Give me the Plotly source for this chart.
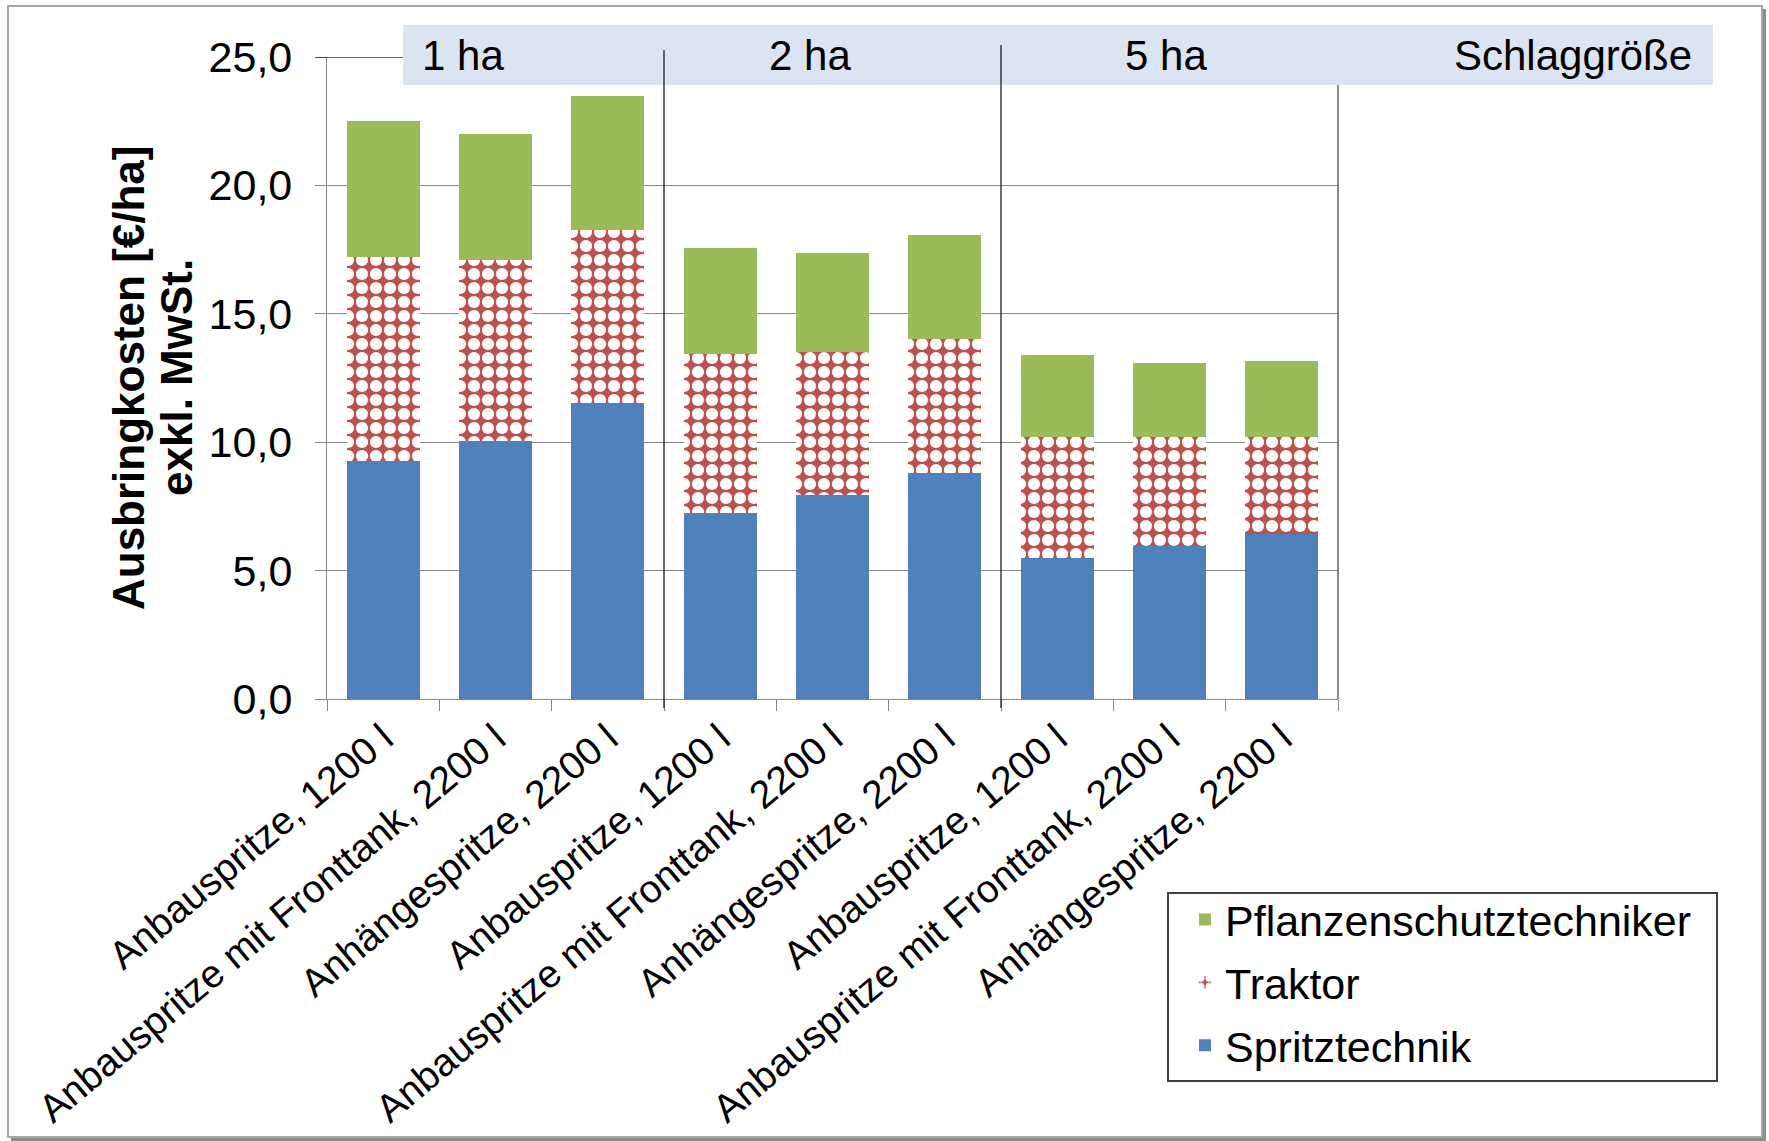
import plotly.graph_objects as go

# ---------------- data ----------------
categories = [
    "Anbauspritze, 1200 l",
    "Anbauspritze mit Fronttank, 2200 l",
    "Anhängespritze, 2200 l",
    "Anbauspritze, 1200 l",
    "Anbauspritze mit Fronttank, 2200 l",
    "Anhängespritze, 2200 l",
    "Anbauspritze, 1200 l",
    "Anbauspritze mit Fronttank, 2200 l",
    "Anhängespritze, 2200 l",
]
groups = ["1 ha", "2 ha", "5 ha"]
group_title = "Schlaggröße"
spritztechnik = [9.28, 10.06, 11.54, 7.26, 7.94, 8.82, 5.51, 5.97, 6.42]
traktor = [7.92, 7.02, 6.71, 6.18, 5.57, 5.19, 4.71, 4.25, 3.77]
pflanzenschutz = [5.31, 4.91, 5.25, 4.14, 3.85, 4.04, 3.16, 2.88, 2.97]
series_names = ["Spritztechnik", "Traktor", "Pflanzenschutztechniker"]
y_ticks = [0, 5, 10, 15, 20, 25]
y_title_1 = "Ausbringkosten [€/ha]"
y_title_2 = "exkl. MwSt."

# ---------------- layout geometry (pixels) ----------------
W, H = 1769, 1141
L, R, T, B = 327, 1338, 57, 699
FONT = "Liberation Sans, Arial, sans-serif"


def px(x):
    return (x - L) / (R - L)


def py(y):
    return (B - y) / (B - T)


xs = list(range(len(categories)))

fig = go.Figure()
fig.add_trace(go.Bar(
    x=xs, y=spritztechnik, name=series_names[0],
    marker=dict(color="#4f81bd", line=dict(width=0)), width=0.65,
    legendgroup="a", legendrank=3,
))
fig.add_trace(go.Bar(
    x=xs, y=traktor, name=series_names[1],
    marker=dict(color="#c0504d", line=dict(width=0),
                pattern=dict(shape=".", fgcolor="white", bgcolor="#c0504d",
                             size=14, solidity=0.6, fillmode="replace")),
    width=0.65, legendgroup="b", legendrank=2,
))
fig.add_trace(go.Bar(
    x=xs, y=pflanzenschutz, name=series_names[2],
    marker=dict(color="#9bbb59", line=dict(width=0)), width=0.65,
    legendgroup="c", legendrank=1,
))

shapes = []
# outer frame with shadow
shapes.append(dict(type="rect", xref="paper", yref="paper", layer="below",
                   x0=px(11), x1=px(1766), y0=py(9), y1=py(1141),
                   fillcolor="#8c8c8c", line=dict(width=0)))
shapes.append(dict(type="rect", xref="paper", yref="paper", layer="below",
                   x0=px(8), x1=px(1762), y0=py(6), y1=py(1137),
                   fillcolor="white", line=dict(color="#a6a6a6", width=2)))
# plot top & right border
shapes.append(dict(type="line", xref="paper", yref="y", x0=px(316), x1=1, y0=25, y1=25,
                   line=dict(color="#303030", width=1.5)))
shapes.append(dict(type="line", xref="paper", yref="paper", x0=1, x1=1, y0=0, y1=1,
                   line=dict(color="#404040", width=1.2)))
# group band
shapes.append(dict(type="rect", xref="paper", yref="paper",
                   x0=px(403), x1=px(1713), y0=py(85), y1=py(25),
                   fillcolor="#dbe5f1", line=dict(width=0)))
# group separators
shapes.append(dict(type="line", xref="x", yref="paper", x0=2.5, x1=2.5,
                   y0=py(708), y1=py(50), line=dict(color="#202020", width=1.3)))
shapes.append(dict(type="line", xref="x", yref="paper", x0=5.5, x1=5.5,
                   y0=py(708), y1=py(45), line=dict(color="#202020", width=1.3)))
# legend box
shapes.append(dict(type="rect", xref="paper", yref="paper",
                   x0=px(1168), x1=px(1717), y0=py(1081), y1=py(893),
                   fillcolor="white", line=dict(color="#404040", width=2)))

annotations = []
band_font = dict(family=FONT, size=42, color="black")
for name, xpix in zip(groups, [420, 767, 1123]):
    annotations.append(dict(xref="paper", yref="paper", x=px(xpix), y=py(55),
                            xanchor="left", yanchor="middle", text=name,
                            showarrow=False, font=band_font))
annotations.append(dict(xref="paper", yref="paper", x=px(1694), y=py(55),
                        xanchor="right", yanchor="middle", text=group_title,
                        showarrow=False, font=band_font))
title_font = dict(family=FONT, size=44, color="black")
annotations.append(dict(xref="paper", yref="paper", x=px(128), y=py(378),
                        xanchor="center", yanchor="middle", text="<b>" + y_title_1 + "</b>",
                        textangle=-90, showarrow=False, font=title_font))
annotations.append(dict(xref="paper", yref="paper", x=px(176), y=py(378),
                        xanchor="center", yanchor="middle", text="<b>" + y_title_2 + "</b>",
                        textangle=-90, showarrow=False, font=title_font))

fig.update_layout(
    width=W, height=H,
    margin=dict(l=L, r=W - R, t=T, b=H - B, autoexpand=False),
    barmode="stack",
    paper_bgcolor="white",
    plot_bgcolor="rgba(0,0,0,0)",
    separators=", ",
    font=dict(family=FONT, size=40, color="black"),
    shapes=shapes,
    annotations=annotations,
    legend=dict(
        x=px(1168), y=py(885), xanchor="left", yanchor="top",
        traceorder="grouped", tracegroupgap=4, indentation=17,
        font=dict(family=FONT, size=43, color="black"),
        bgcolor="rgba(0,0,0,0)", borderwidth=0,
    ),
    xaxis=dict(
        range=[-0.5, 8.5], tickmode="array", tickvals=xs, ticktext=categories,
        tickangle=-40, ticks="", showgrid=False, zeroline=False,
        showline=True, linecolor="#868686", linewidth=1.2,
        tickfont=dict(family=FONT, size=39, color="black"),
        minor=dict(tickmode="linear", tick0=0.5, dtick=1, ticks="outside",
                   ticklen=11, tickcolor="#868686", tickwidth=1.2, showgrid=False),
    ),
    yaxis=dict(
        range=[0, 25], tickmode="array", tickvals=y_ticks, tickformat=".1f",
        ticks="outside", ticklen=11, tickcolor="#868686", tickwidth=1.2,
        showgrid=True, gridcolor="#868686", gridwidth=1.2, zeroline=False,
        showline=True, linecolor="#868686", linewidth=1.2,
        tickfont=dict(family=FONT, size=43, color="black"),
        ticklabelstandoff=14,
    ),
)

fig.write_html("out.html", config={"displayModeBar": False},
               post_script="document.body.style.margin='0px';document.body.style.overflow='hidden';")
